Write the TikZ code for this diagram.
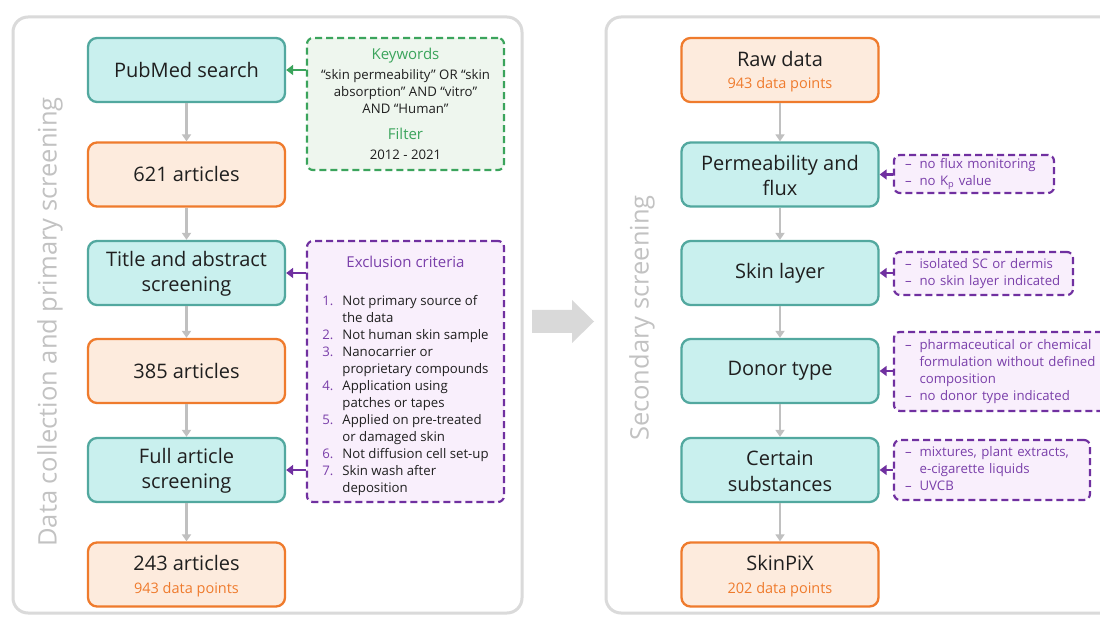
\documentclass[tikz,border=0pt]{standalone}
\usepackage{fontspec}
\setmainfont{Open Sans}
\usetikzlibrary{arrows.meta}
\definecolor{tealfill}{HTML}{C9F0EE}
\definecolor{tealdraw}{HTML}{52A89F}
\definecolor{orfill}{HTML}{FDEBDD}
\definecolor{ordraw}{HTML}{EF7B2D}
\definecolor{grfill}{HTML}{EEF6EE}
\definecolor{grdraw}{HTML}{3BA45C}
\definecolor{pufill}{HTML}{F9EFFC}
\definecolor{pudraw}{HTML}{7030A0}
\definecolor{putext}{HTML}{7A3FAA}
\definecolor{panelgray}{HTML}{DADADA}
\definecolor{flowgray}{HTML}{C0C0C0}
\definecolor{titlegray}{HTML}{C2C2C2}
\definecolor{bigarrow}{HTML}{D9D9D9}
\newcommand{\subtxt}[1]{{\color{ordraw}\fontsize{14.5}{16}\selectfont #1}}
\begin{document}
\begin{tikzpicture}[x=1pt,y=-1pt,
  every node/.style={inner sep=0pt},
  flowbox/.style={rounded corners=9pt, line width=2.3pt, minimum width=197pt, minimum height=64pt, align=center, font=\fontsize{20}{25.5}\selectfont, text=black!88},
  tealbox/.style={flowbox, draw=tealdraw, fill=tealfill},
  orbox/.style={flowbox, draw=ordraw, fill=orfill},
  sidebox/.style={rounded corners=6pt, line width=2.2pt, dash pattern=on 7pt off 4pt},
  greenbox/.style={sidebox, draw=grdraw, fill=grfill, minimum width=197pt, minimum height=132pt, align=center, font=\fontsize{13.2}{17}\selectfont, text=black!88},
  exclbox/.style={sidebox, draw=pudraw, fill=pufill, minimum width=197pt, minimum height=261pt, align=center, font=\fontsize{13.2}{17}\selectfont, text=black!88},
  purplebox/.style={sidebox, draw=pudraw, fill=pufill, inner xsep=11pt, align=left, font=\fontsize{13.2}{17}\selectfont, text=putext},
  flow/.style={draw=flowgray, line width=2.2pt, -{Triangle[length=7pt,width=9pt]}},
  sidegreen/.style={draw=grdraw, line width=2.5pt, -{Triangle[length=7pt,width=10pt]}},
  sidepurple/.style={draw=pudraw, line width=2.5pt, -{Triangle[length=7pt,width=10pt]}},
  paneltitle/.style={rotate=90, text=titlegray, font=\fontsize{25.5}{28}\selectfont},
  panel/.style={draw=panelgray, line width=3pt, fill=white, rounded corners=15pt}
]
\useasboundingbox[fill=white] (0,0) rectangle (1100,617);

% panels
\draw[panel] (13,17) rectangle (522,613);
\draw[panel] (606,17) rectangle (1140,613);

% big arrow between panels
\fill[bigarrow] (532,310) -- (572,310) -- (572,300) -- (594,321.5) -- (572,343) -- (572,333) -- (532,333) -- cycle;

% panel titles
\node[paneltitle] (t1) at (50,322) {Data collection and primary screening};
\node[paneltitle] (t2) at (642,318) {Secondary screening};

% left flow
\node[tealbox] (pub)  at (186.5,70)  {PubMed search};
\node[orbox]   (a621) at (186.5,174.5) {621 articles};
\node[tealbox] (tas)  at (186.5,273) {\rule{0pt}{17pt}Title and abstract\\screening};
\node[orbox]   (a385) at (186.5,371) {385 articles};
\node[tealbox] (fas)  at (186.5,470) {\rule{0pt}{17pt}Full article\\screening};
\node[orbox]   (a243) at (186.5,574.5) {\rule{0pt}{18pt}243 articles\\[-3pt]\subtxt{943 data points}};

\draw[flow] (pub) -- (a621);
\draw[flow] (a621) -- (tas);
\draw[flow] (tas) -- (a385);
\draw[flow] (a385) -- (fas);
\draw[flow] (fas) -- (a243);

% green keyword box
\node[greenbox] (kw) at (405.5,104) {%
{\color{grdraw}\fontsize{15}{17}\selectfont Keywords}\\[3pt]
“skin permeability” OR “skin\\
absorption” AND “vitro”\\
AND “Human”\\[9pt]
{\color{grdraw}\fontsize{15}{17}\selectfont Filter}\\[3pt]
2012 - 2021};
\draw[sidegreen] (kw.west |- pub.east) -- (pub.east);

% exclusion box
\node[exclbox] (excl) at (405.5,371.5) {%
\rule{0pt}{22pt}{\color{putext}\fontsize{15}{17}\selectfont Exclusion criteria}\\[21pt]
\begin{tabular}[t]{@{}l@{\hspace{9pt}}l@{}}
\color{putext}1. & Not primary source of\\
 & the data\\
\color{putext}2. & Not human skin sample\\
\color{putext}3. & Nanocarrier or\\
 & proprietary compounds\\
\color{putext}4. & Application using\\
 & patches or tapes\\
\color{putext}5. & Applied on pre-treated\\
 & or damaged skin\\
\color{putext}6. & Not diffusion cell set-up\\
\color{putext}7. & Skin wash after\\
 & deposition
\end{tabular}};
\draw[sidepurple] (excl.west |- tas.east) -- (tas.east);
\draw[sidepurple] (excl.west |- fas.east) -- (fas.east);

% right flow
\node[orbox]   (raw)   at (780,70)  {\rule{0pt}{18pt}Raw data\\[-3pt]\subtxt{943 data points}};
\node[tealbox] (perm)  at (780,174.5) {\rule{0pt}{17pt}Permeability and\\flux};
\node[tealbox] (skin)  at (780,273) {Skin layer};
\node[tealbox] (donor) at (780,371) {Donor type};
\node[tealbox] (cert)  at (780,470) {\rule{0pt}{17pt}Certain\\substances};
\node[orbox]   (spx)   at (780,574.5) {\rule{0pt}{18pt}SkinPiX\\[-3pt]\subtxt{202 data points}};

\draw[flow] (raw) -- (perm);
\draw[flow] (perm) -- (skin);
\draw[flow] (skin) -- (donor);
\draw[flow] (donor) -- (cert);
\draw[flow] (cert) -- (spx);

% right side criteria boxes
\node[purplebox, text width=138pt, minimum height=38pt] (ex1) at (974,174) {%
\begin{tabular}{@{}l@{\hspace{8pt}}l@{}}
– & no flux monitoring\\
– & no K\textsubscript{p} value
\end{tabular}};
\node[purplebox, text width=157pt, minimum height=43pt] (ex2) at (983.5,273.5) {%
\begin{tabular}{@{}l@{\hspace{8pt}}l@{}}
– & isolated SC or dermis\\
– & no skin layer indicated
\end{tabular}};
\node[purplebox, text width=192pt, minimum height=79pt] (ex3) at (1001,371.5) {%
\begin{tabular}{@{}l@{\hspace{8pt}}l@{}}
– & pharmaceutical or chemical\\
 & formulation without defined\\
 & composition\\
– & no donor type indicated
\end{tabular}};
\node[purplebox, text width=174pt, minimum height=60pt] (ex4) at (992,470) {%
\begin{tabular}{@{}l@{\hspace{8pt}}l@{}}
– & mixtures, plant extracts,\\
 & e-cigarette liquids\\
– & UVCB
\end{tabular}};

\draw[sidepurple] (ex1.west |- perm.east) -- (perm.east);
\draw[sidepurple] (ex2.west |- skin.east) -- (skin.east);
\draw[sidepurple] (ex3.west |- donor.east) -- (donor.east);
\draw[sidepurple] (ex4.west |- cert.east) -- (cert.east);
\end{tikzpicture}
\end{document}
